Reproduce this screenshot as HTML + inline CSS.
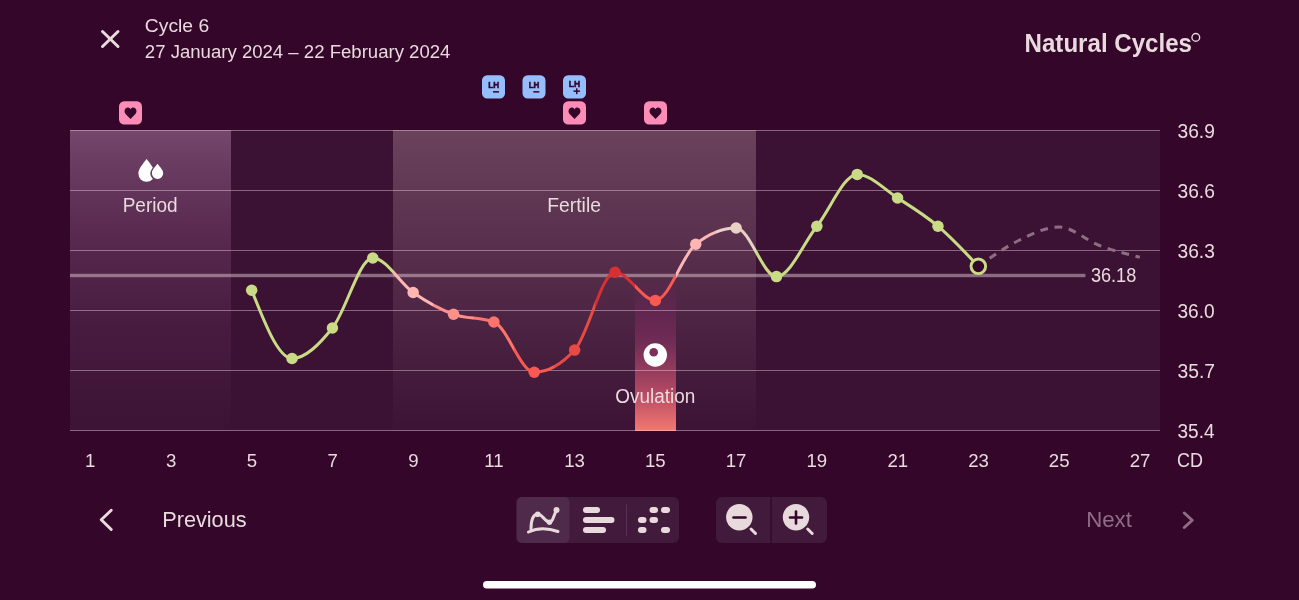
<!DOCTYPE html>
<html><head><meta charset="utf-8">
<style>
html,body{margin:0;padding:0}
body{width:1299px;height:600px;background:#33062a;overflow:hidden;position:relative;font-family:"Liberation Sans",sans-serif;color:#e8dadd}
.t{position:absolute;white-space:nowrap;line-height:1}
svg{position:absolute;left:0;top:0;will-change:transform}
</style></head><body>
<svg width="1299" height="600" viewBox="0 0 1299 600">
<defs>
<linearGradient id="gP" x1="0" y1="130" x2="0" y2="430" gradientUnits="userSpaceOnUse">
<stop offset="0" stop-color="#76476c"/><stop offset="0.1" stop-color="#6b3d63"/><stop offset="0.35" stop-color="#59294f"/><stop offset="0.667" stop-color="#461b3f"/><stop offset="0.95" stop-color="#3e1436"/><stop offset="1" stop-color="#3c1335"/></linearGradient>
<linearGradient id="gF" x1="0" y1="130" x2="0" y2="430" gradientUnits="userSpaceOnUse">
<stop offset="0" stop-color="#6a425c"/><stop offset="1" stop-color="#3c1335"/></linearGradient>
<linearGradient id="gO" x1="0" y1="280" x2="0" y2="431" gradientUnits="userSpaceOnUse">
<stop offset="0" stop-color="#7a2060" stop-opacity="0"/><stop offset="0.4" stop-color="#762e58" stop-opacity="0.85"/><stop offset="0.75" stop-color="#b44a64"/><stop offset="1" stop-color="#f47870"/></linearGradient>
<linearGradient id="gL" x1="70" y1="0" x2="1160" y2="0" gradientUnits="userSpaceOnUse"><stop offset="14.815%" stop-color="#c9dc85"/><stop offset="18.519%" stop-color="#c9dc85"/><stop offset="18.519%" stop-color="#c9dc85"/><stop offset="22.222%" stop-color="#c9dc85"/><stop offset="22.222%" stop-color="#c9dc85"/><stop offset="25.926%" stop-color="#c9dc85"/><stop offset="25.926%" stop-color="#c9dc85"/><stop offset="29.630%" stop-color="#c9dc85"/><stop offset="29.630%" stop-color="#feb6b4"/><stop offset="33.333%" stop-color="#feb6b4"/><stop offset="33.333%" stop-color="#fe908c"/><stop offset="37.037%" stop-color="#fe908c"/><stop offset="37.037%" stop-color="#fe746c"/><stop offset="40.741%" stop-color="#fe746c"/><stop offset="40.741%" stop-color="#f85a52"/><stop offset="44.444%" stop-color="#f85a52"/><stop offset="44.444%" stop-color="#e64a42"/><stop offset="48.148%" stop-color="#e64a42"/><stop offset="48.148%" stop-color="#d83032"/><stop offset="51.852%" stop-color="#d83032"/><stop offset="51.852%" stop-color="#f85a52"/><stop offset="55.556%" stop-color="#f85a52"/><stop offset="55.556%" stop-color="#feb6b4"/><stop offset="59.259%" stop-color="#feb6b4"/><stop offset="59.259%" stop-color="#e8d2c6"/><stop offset="62.963%" stop-color="#e8d2c6"/><stop offset="62.963%" stop-color="#c9dc85"/><stop offset="66.667%" stop-color="#c9dc85"/><stop offset="66.667%" stop-color="#c9dc85"/><stop offset="70.370%" stop-color="#c9dc85"/><stop offset="70.370%" stop-color="#c9dc85"/><stop offset="74.074%" stop-color="#c9dc85"/><stop offset="74.074%" stop-color="#c9dc85"/><stop offset="77.778%" stop-color="#c9dc85"/><stop offset="77.778%" stop-color="#c9dc85"/><stop offset="81.481%" stop-color="#c9dc85"/><stop offset="81.481%" stop-color="#c9dc85"/><stop offset="85.185%" stop-color="#c9dc85"/></linearGradient>
</defs>
<!-- bands -->
<rect x="70" y="130" width="1090" height="301" fill="#3b1234"/>
<rect x="70" y="130" width="161" height="300" fill="url(#gP)"/>
<rect x="393" y="130" width="363" height="300" fill="url(#gF)"/>
<rect x="635" y="280" width="41" height="151" fill="url(#gO)"/>
<rect x="70" y="130" width="1090" height="1" fill="rgba(245,220,228,0.42)"/><rect x="70" y="190" width="1090" height="1" fill="rgba(245,220,228,0.42)"/><rect x="70" y="250" width="1090" height="1" fill="rgba(245,220,228,0.42)"/><rect x="70" y="310" width="1090" height="1" fill="rgba(245,220,228,0.42)"/><rect x="70" y="370" width="1090" height="1" fill="rgba(245,220,228,0.42)"/><rect x="70" y="430" width="1090" height="1" fill="rgba(245,220,228,0.42)"/>
<!-- coverline -->
<rect x="70" y="273.8" width="1015.4" height="3.4" fill="rgba(221,198,204,0.5)"/>
<!-- ovulation icon -->
<circle cx="655.3" cy="355" r="11.7" fill="#fff"/>
<circle cx="653.7" cy="352.3" r="4.3" fill="#7e3058"/>
<!-- period drops -->
<path d="M146.6,159.1 C143,164 138.4,168.5 138.4,173.6 A8.1,8.1 0 0 0 146.6,181.8 A8.1,8.1 0 0 0 154.7,173.6 C154.7,168.5 150.2,164 146.6,159.1Z" fill="#fff"/>
<path d="M157.5,162.2 C154.5,166 150.3,169.5 150.3,173.5 A7.2,7.2 0 0 0 157.5,180.7 A7.2,7.2 0 0 0 164.7,173.5 C164.7,169.5 160.5,166 157.5,162.2Z" fill="#683a60"/>
<path d="M157.5,163.7 C155,167 151.9,169.8 151.9,173.3 A5.65,5.65 0 0 0 157.5,179 A5.65,5.65 0 0 0 163.2,173.3 C163.2,169.8 160,167 157.5,163.7Z" fill="#fff"/>
<!-- prediction -->
<path d="M978.33,266.30C991.79,256.68 1005.25,247.05 1018.70,240.50C1032.16,233.95 1045.62,227.00 1059.07,227.00C1072.53,227.00 1085.99,240.45 1099.44,245.50C1112.90,250.55 1126.36,253.93 1139.81,257.30" fill="none" stroke="#8e6e82" stroke-width="3" stroke-dasharray="7.8 6.7" stroke-dashoffset="0.7"/>
<!-- main line -->
<path d="M251.67,290.20C265.12,324.35 278.58,358.50 292.04,358.50C305.49,358.50 318.95,344.75 332.41,328.00C345.86,311.25 359.32,258.00 372.78,258.00C386.23,258.00 399.69,283.12 413.15,292.50C426.60,301.88 440.06,309.38 453.52,314.30C466.98,319.22 480.43,316.87 493.89,322.00C507.35,327.13 520.80,372.30 534.26,372.30C547.72,372.30 561.17,364.90 574.63,350.10C588.09,335.30 601.54,272.20 615.00,272.20C628.46,272.20 641.91,300.40 655.37,300.40C668.83,300.40 682.28,255.00 695.74,244.20C709.20,233.40 722.65,228.00 736.11,228.00C749.57,228.00 763.02,276.60 776.48,276.60C789.94,276.60 803.40,243.23 816.85,226.20C830.31,209.17 843.77,174.40 857.22,174.40C870.68,174.40 884.14,189.37 897.59,198.00C911.05,206.63 924.51,214.82 937.96,226.20C951.42,237.58 964.88,251.94 978.33,266.30" fill="none" stroke="url(#gL)" stroke-width="3" stroke-linejoin="round"/>
<circle cx="251.67" cy="290.2" r="5.75" fill="#c9dc85"/><circle cx="292.04" cy="358.5" r="5.75" fill="#c9dc85"/><circle cx="332.41" cy="328" r="5.75" fill="#c9dc85"/><circle cx="372.78" cy="258" r="5.75" fill="#c9dc85"/><circle cx="413.15" cy="292.5" r="5.75" fill="#feb6b4"/><circle cx="453.52" cy="314.3" r="5.75" fill="#fe908c"/><circle cx="493.89" cy="322" r="5.75" fill="#fe746c"/><circle cx="534.26" cy="372.3" r="5.75" fill="#f85a52"/><circle cx="574.63" cy="350.1" r="5.75" fill="#e64a42"/><circle cx="615.00" cy="272.2" r="5.75" fill="#d83032"/><circle cx="655.37" cy="300.4" r="5.75" fill="#f85a52"/><circle cx="695.74" cy="244.2" r="5.75" fill="#feb6b4"/><circle cx="736.11" cy="228" r="5.75" fill="#e8d2c6"/><circle cx="776.48" cy="276.6" r="5.75" fill="#c9dc85"/><circle cx="816.85" cy="226.2" r="5.75" fill="#c9dc85"/><circle cx="857.22" cy="174.4" r="5.75" fill="#c9dc85"/><circle cx="897.59" cy="198" r="5.75" fill="#c9dc85"/><circle cx="937.96" cy="226.2" r="5.75" fill="#c9dc85"/>
<circle cx="978.33" cy="266.3" r="7.3" fill="#33062a" stroke="#c9dc85" stroke-width="2.9"/>
<!-- axis labels -->

<g fill="#e8dadd" font-family="Liberation Sans"><text x="84.96" y="467.00" font-size="19.2" fill="#e8dadd" textLength="10.36" lengthAdjust="spacingAndGlyphs">1</text><text x="166.00" y="467.00" font-size="19.2" fill="#e8dadd" textLength="10.36" lengthAdjust="spacingAndGlyphs">3</text><text x="246.70" y="467.00" font-size="19.2" fill="#e8dadd" textLength="10.36" lengthAdjust="spacingAndGlyphs">5</text><text x="327.42" y="467.00" font-size="19.2" fill="#e8dadd" textLength="10.36" lengthAdjust="spacingAndGlyphs">7</text><text x="408.16" y="467.00" font-size="19.2" fill="#e8dadd" textLength="10.36" lengthAdjust="spacingAndGlyphs">9</text><text x="484.17" y="467.00" font-size="19.2" fill="#e8dadd" textLength="19.33" lengthAdjust="spacingAndGlyphs">11</text><text x="564.19" y="467.00" font-size="19.2" fill="#e8dadd" textLength="20.72" lengthAdjust="spacingAndGlyphs">13</text><text x="644.91" y="467.00" font-size="19.2" fill="#e8dadd" textLength="20.72" lengthAdjust="spacingAndGlyphs">15</text><text x="725.74" y="467.00" font-size="19.2" fill="#e8dadd" textLength="20.72" lengthAdjust="spacingAndGlyphs">17</text><text x="806.44" y="467.00" font-size="19.2" fill="#e8dadd" textLength="20.72" lengthAdjust="spacingAndGlyphs">19</text><text x="887.43" y="467.00" font-size="19.2" fill="#e8dadd" textLength="20.72" lengthAdjust="spacingAndGlyphs">21</text><text x="968.13" y="467.00" font-size="19.2" fill="#e8dadd" textLength="20.72" lengthAdjust="spacingAndGlyphs">23</text><text x="1048.84" y="467.00" font-size="19.2" fill="#e8dadd" textLength="20.72" lengthAdjust="spacingAndGlyphs">25</text><text x="1129.68" y="467.00" font-size="19.2" fill="#e8dadd" textLength="20.72" lengthAdjust="spacingAndGlyphs">27</text><text x="1177.48" y="138.00" font-size="19.5" fill="#e8dadd" textLength="37.41" lengthAdjust="spacingAndGlyphs">36.9</text><text x="1177.48" y="198.00" font-size="19.5" fill="#e8dadd" textLength="37.36" lengthAdjust="spacingAndGlyphs">36.6</text><text x="1177.48" y="258.00" font-size="19.5" fill="#e8dadd" textLength="37.36" lengthAdjust="spacingAndGlyphs">36.3</text><text x="1177.48" y="318.00" font-size="19.5" fill="#e8dadd" textLength="37.26" lengthAdjust="spacingAndGlyphs">36.0</text><text x="1177.48" y="378.00" font-size="19.5" fill="#e8dadd" textLength="37.51" lengthAdjust="spacingAndGlyphs">35.7</text><text x="1177.49" y="438.00" font-size="19.5" fill="#e8dadd" textLength="37.06" lengthAdjust="spacingAndGlyphs">35.4</text><text x="144.84" y="32.00" font-size="19.1" fill="#e8dadd" textLength="64.32" lengthAdjust="spacingAndGlyphs">Cycle 6</text><text x="144.87" y="58.10" font-size="18.9" fill="#e8dadd" textLength="305.57" lengthAdjust="spacingAndGlyphs">27 January 2024 – 22 February 2024</text><text x="1024.57" y="52.20" font-size="25.0" font-weight="bold" fill="#e8dadd" textLength="167.40" lengthAdjust="spacingAndGlyphs">Natural Cycles</text><text x="162.21" y="526.80" font-size="22.2" fill="#e8dadd" textLength="84.36" lengthAdjust="spacingAndGlyphs">Previous</text><text x="1086.17" y="526.70" font-size="22.2" fill="#8e6e86" textLength="45.73" lengthAdjust="spacingAndGlyphs">Next</text><text x="122.63" y="211.80" font-size="19.5" fill="#e8dadd" textLength="54.97" lengthAdjust="spacingAndGlyphs">Period</text><text x="547.31" y="211.80" font-size="19.5" fill="#e8dadd" textLength="53.63" lengthAdjust="spacingAndGlyphs">Fertile</text><text x="615.30" y="402.90" font-size="19.4" fill="#e8dadd" textLength="80.08" lengthAdjust="spacingAndGlyphs">Ovulation</text><text x="1090.92" y="282.10" font-size="19.6" fill="#e8dadd" textLength="45.35" lengthAdjust="spacingAndGlyphs">36.18</text><text x="1177.00" y="467.00" font-size="19.3" fill="#e8dadd" textLength="25.94" lengthAdjust="spacingAndGlyphs">CD</text></g>
<!-- badges -->
<g>
<rect x="119" y="101.2" width="23" height="23.4" rx="5.2" fill="#fd8cb6"/>
<rect x="563" y="101.2" width="23" height="23.4" rx="5.2" fill="#fd8cb6"/>
<rect x="644" y="101.2" width="23" height="23.4" rx="5.2" fill="#fd8cb6"/>
<rect x="482" y="75.3" width="23" height="23.1" rx="5.2" fill="#96befd"/>
<rect x="522.5" y="75.3" width="23" height="23.1" rx="5.2" fill="#96befd"/>
<rect x="563" y="75.3" width="23" height="23.1" rx="5.2" fill="#96befd"/>
</g>
<g fill="#33062a">
<path id="hrt" d="M130.5,119 L125.6,114 C124,112.4 124.2,109.6 125.8,108.3 C127.4,107 129.5,107.4 130.5,109.2 C131.5,107.4 133.6,107 135.2,108.3 C136.8,109.6 137,112.4 135.4,114 Z"/>
<use href="#hrt" x="444"/>
<use href="#hrt" x="525"/>
</g>
<g fill="#33062a" font-family="Liberation Sans"><text x="488.35" y="88.10" font-size="9.6" font-weight="bold" fill="#33062a" textLength="10.91" lengthAdjust="spacingAndGlyphs" stroke="#33062a" stroke-width="0.55">LH</text><text x="528.65" y="88.10" font-size="9.6" font-weight="bold" fill="#33062a" textLength="10.80" lengthAdjust="spacingAndGlyphs" stroke="#33062a" stroke-width="0.55">LH</text><text x="568.73" y="86.60" font-size="9.0" font-weight="bold" fill="#33062a" textLength="11.35" lengthAdjust="spacingAndGlyphs" stroke="#33062a" stroke-width="0.55">LH</text>
<rect x="493" y="91.1" width="6" height="1.5"/>
<rect x="533.3" y="91.1" width="6" height="1.5"/>
<rect x="573.5" y="90.4" width="6.5" height="1.5"/><rect x="576" y="88.3" width="1.5" height="5.8"/>
</g>
<!-- header -->
<g stroke="#e8dadd" stroke-width="3" stroke-linecap="round">
<line x1="102.5" y1="31.5" x2="118" y2="46.5"/><line x1="118" y1="31.5" x2="102.5" y2="46.5"/>
<polyline points="111.25,510.25 101.25,519.75 111.25,529.5" fill="none" stroke-linejoin="round"/>
</g>
<polyline points="1184.25,513 1192.25,520.25 1184.25,527.5" fill="none" stroke="#8e6e86" stroke-width="3" stroke-linecap="round" stroke-linejoin="round"/>
<circle cx="1195.8" cy="37.4" r="3.85" fill="none" stroke="#e8dadd" stroke-width="1.4"/>
<!-- toggle group -->
<rect x="516" y="497" width="163" height="46" rx="6" fill="#421a3b"/>
<rect x="517" y="497" width="52.5" height="46" rx="5" fill="#4f2a4b"/>
<rect x="626" y="504.5" width="1" height="31.5" fill="#5a3254"/>
<g fill="#e8dadc">
<rect x="583" y="507" width="17" height="6" rx="3"/>
<rect x="583" y="517" width="31.5" height="6" rx="3"/>
<rect x="583" y="527" width="23" height="6" rx="3"/>
<rect x="649.5" y="507" width="8.5" height="6" rx="3"/><rect x="661" y="507" width="9" height="6" rx="3"/>
<rect x="638" y="517" width="8.5" height="6" rx="3"/><rect x="649.5" y="517" width="8.5" height="6" rx="3"/>
<rect x="638" y="527" width="8.5" height="6" rx="3"/><rect x="661" y="527" width="9" height="6" rx="3"/>
</g>
<g fill="none" stroke="#e8dadc" stroke-width="3" stroke-linecap="round" stroke-linejoin="round">
<path d="M531,529 C531,521 533,514.5 537.7,514 C541.5,513.6 545,521.5 549.5,522.3 C552.5,522.8 554,515 556.5,510"/>
<path d="M528.5,532 C537,528 548,528 558,531.5"/>
</g>
<circle cx="537.7" cy="514.2" r="2.8" fill="#e8dadc"/>
<circle cx="549.5" cy="522.3" r="2.7" fill="#e8dadc"/>
<circle cx="556.5" cy="510" r="3" fill="#e8dadc"/>
<!-- zoom group -->
<rect x="716" y="497" width="111" height="46" rx="6" fill="#421a3b"/>
<rect x="770.5" y="497" width="1.2" height="46" fill="#33062a"/>
<g fill="#e8dadc">
<circle cx="739.3" cy="517.2" r="13.2"/>
<circle cx="796" cy="517.2" r="13.2"/>
</g>
<g stroke="#e8dadc" stroke-width="3" stroke-linecap="round">
<line x1="751" y1="529" x2="755.5" y2="533.5"/>
<line x1="807.7" y1="529" x2="812.2" y2="533.5"/>
</g>
<g stroke="#33062a" stroke-width="2.6" stroke-linecap="round">
<line x1="733.5" y1="517.5" x2="745.5" y2="517.5"/>
<line x1="790" y1="517.5" x2="802" y2="517.5"/>
<line x1="796" y1="511.5" x2="796" y2="523.5"/>
</g>
<!-- home indicator -->
<rect x="483" y="581" width="333" height="7.5" rx="3.75" fill="#fff"/>
</svg>
</body></html>
